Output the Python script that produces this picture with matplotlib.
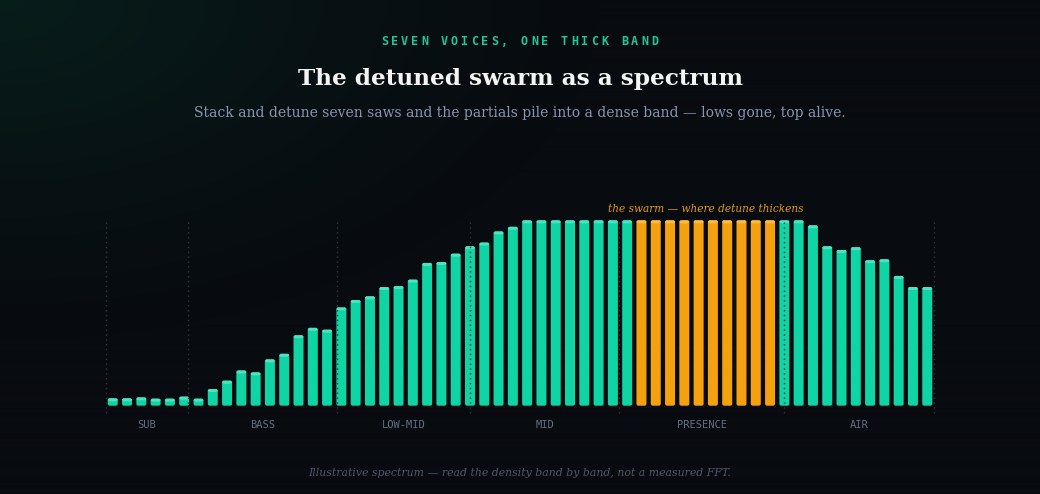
import numpy as np
import matplotlib.pyplot as plt
from matplotlib.patches import FancyBboxPatch

# spectrum density per bin (1.0 = saturated)
values = [0.04, 0.04, 0.045, 0.038, 0.038, 0.049, 0.038, 0.09, 0.135, 0.19,
          0.18, 0.25, 0.28, 0.38, 0.42, 0.41, 0.53, 0.57, 0.59, 0.64,
          0.645, 0.68, 0.77, 0.775, 0.82, 0.86, 0.88, 0.94, 0.965, 1.0,
          1.0, 1.0, 1.0, 1.0, 1.0, 1.0, 1.0, 1.0, 1.0, 1.0,
          1.0, 1.0, 1.0, 1.0, 1.0, 1.0, 1.0, 1.0, 1.0, 0.973,
          0.86, 0.84, 0.855, 0.785, 0.79, 0.70, 0.64, 0.64]
swarm_bins = [37, 46]          # first and last bin of the highlighted swarm
band_names = ["SUB", "BASS", "LOW-MID", "MID", "PRESENCE", "AIR"]
band_edges = [-0.5, 5.3, 15.7, 25.0, 35.45, 47.0, 57.5]

kicker = "SEVEN VOICES, ONE THICK BAND"
title = "The detuned swarm as a spectrum"
subtitle = "Stack and detune seven saws and the partials pile into a dense band \u2014 lows gone, top alive."
annotation = "the swarm \u2014 where detune thickens"
footer = "Illustrative spectrum \u2014 read the density band by band, not a measured FFT."

W, H = 1040, 494
BG = np.array([8, 11, 16]) / 255.0
GLOW = np.array([7, 30, 27]) / 255.0
TEAL, TEAL_CAP = "#0fd4a4", "#4fe2bf"
ORANGE, ORANGE_CAP = "#f5a00f", "#f8bb4c"

fig = plt.figure(figsize=(W / 100, H / 100), dpi=100)

# background with a faint teal glow in the top-left corner
bg = fig.add_axes([0, 0, 1, 1])
yy, xx = np.mgrid[0:H, 0:W]
r = np.sqrt((xx / 600.0) ** 2 + (yy / 340.0) ** 2)
t = np.clip(1 - r, 0, 1) ** 1.3
img = BG[None, None, :] * (1 - t[..., None]) + GLOW[None, None, :] * t[..., None]
bg.imshow(img, extent=[0, W, H, 0], aspect="auto")
bg.axis("off")

# main plot area: baseline at y=405.7px, full bar at y=220.3px
left, right, base, top = 105.6, 934.4, 405.7, 220.3
ax = fig.add_axes([left / W, (H - base) / H, (right - left) / W, (base - top) / H])
ax.set_xlim(-0.5, len(values) - 0.5)
ax.set_ylim(0, 1)
ax.axis("off")
ax.patch.set_alpha(0)

xpx = 1.0 / ((right - left) / len(values))   # data x per pixel
ypx = 1.0 / (base - top)                      # data y per pixel
bw = 0.7
cap = 3 * ypx
for i, v in enumerate(values):
    in_swarm = swarm_bins[0] <= i <= swarm_bins[1]
    c, cc = (ORANGE, ORANGE_CAP) if in_swarm else (TEAL, TEAL_CAP)
    style = "round,pad=0,rounding_size=%f" % (2 * xpx)
    body = FancyBboxPatch((i - bw / 2, 0), bw, v, boxstyle=style,
                          mutation_aspect=ypx / xpx, fc=c, ec="none", zorder=2)
    ax.add_patch(body)
    head = FancyBboxPatch((i - bw / 2, v - cap), bw, cap, boxstyle=style,
                          mutation_aspect=ypx / xpx, fc=cc, ec="none", zorder=2.1)
    ax.add_patch(head)

ax.vlines(band_edges, -0.04, 1.0, colors="#2e3540", linestyles=(0, (1, 2.5)),
          linewidth=1, zorder=3, clip_on=False)

for name, a, b in zip(band_names, band_edges[:-1], band_edges[1:]):
    ax.text((a + b) / 2, -0.104, name, ha="center", va="center",
            family="DejaVu Sans Mono", fontsize=7.5, color="#64707f")

ax.text((swarm_bins[0] + swarm_bins[1]) / 2, 1.06, annotation, ha="center",
        va="center", family="DejaVu Serif", style="italic", fontsize=7.6,
        color="#e39a14")

# header, one glyph at a time for the letter spacing
pitch = 10.0
for k, ch in enumerate(kicker):
    x = 519.5 + (k - (len(kicker) - 1) / 2) * pitch
    fig.text(x / W, 1 - 41.7 / H, ch, ha="center", va="center",
             family="DejaVu Sans Mono", fontweight="bold", fontsize=8.5,
             color="#1fc996")

fig.text(520 / W, 1 - 79 / H, title, ha="center", va="center",
         family="DejaVu Serif", fontweight="bold", fontsize=16.7, color="#f4f4f2")
fig.text(520 / W, 1 - 113 / H, subtitle, ha="center", va="center",
         family="DejaVu Serif", fontsize=10.0, color="#8796ad")
fig.text(520 / W, 1 - 472.5 / H, footer, ha="center", va="center",
         family="DejaVu Serif", style="italic", fontsize=7.8, color="#4e5868")

fig.savefig("out.png", dpi=100)
